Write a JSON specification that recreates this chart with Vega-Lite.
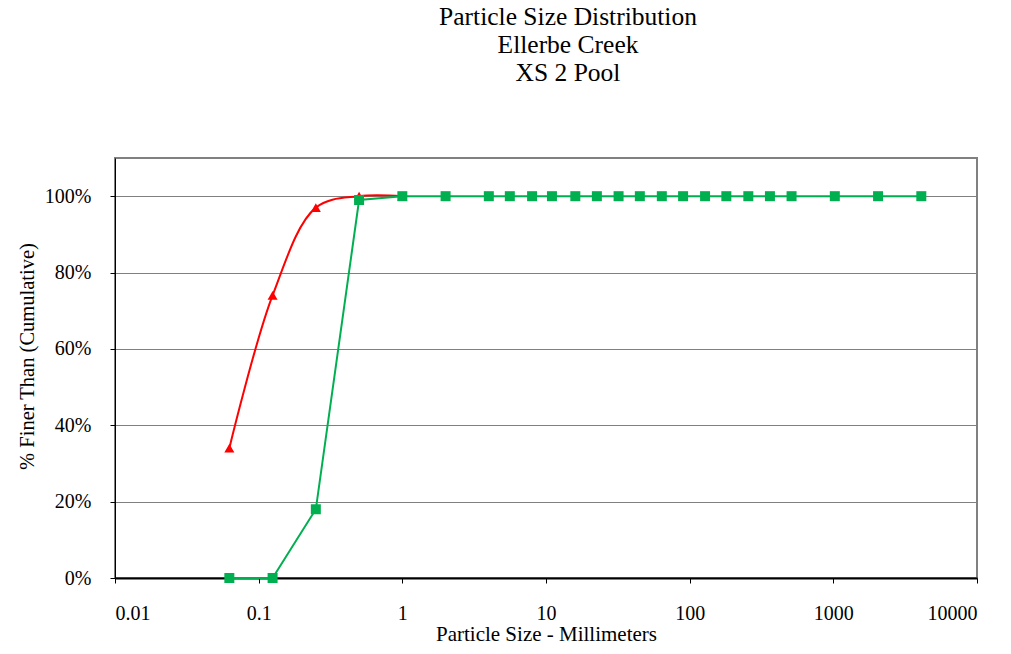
{
  "$schema": "https://vega.github.io/schema/vega-lite/v6.json",
  "width": 862,
  "height": 420,
  "autosize": "none",
  "padding": {"left": 115, "top": 158, "right": 34, "bottom": 76},
  "background": "white",
  "config": {
    "font": "Liberation Serif",
    "view": {"stroke": "#808080", "strokeWidth": 2},
    "axis": {"labelFont": "Liberation Serif", "titleFont": "Liberation Serif"}
  },
  "title": {
    "text": ["Particle Size Distribution", "Ellerbe Creek", "XS 2 Pool"],
    "font": "Liberation Serif",
    "fontSize": 25.5,
    "fontWeight": "normal",
    "color": "black",
    "lineHeight": 28,
    "anchor": "middle",
    "dx": 22,
    "offset": 72
  },
  "data": {
    "values": [
      {"size": 0.0625, "pct": 0.34, "series": "A"},
      {"size": 0.125, "pct": 0.74, "series": "A"},
      {"size": 0.25, "pct": 0.97, "series": "A"},
      {"size": 0.5, "pct": 1.0, "series": "A"},
      {"size": 1, "pct": 1.0, "series": "A"},
      {"size": 0.0625, "pct": 0.0, "series": "B"},
      {"size": 0.125, "pct": 0.0, "series": "B"},
      {"size": 0.25, "pct": 0.18, "series": "B"},
      {"size": 0.5, "pct": 0.99, "series": "B"},
      {"size": 1, "pct": 1.0, "series": "B"},
      {"size": 2, "pct": 1.0, "series": "B"},
      {"size": 4, "pct": 1.0, "series": "B"},
      {"size": 5.6, "pct": 1.0, "series": "B"},
      {"size": 8, "pct": 1.0, "series": "B"},
      {"size": 11, "pct": 1.0, "series": "B"},
      {"size": 16, "pct": 1.0, "series": "B"},
      {"size": 22.6, "pct": 1.0, "series": "B"},
      {"size": 32, "pct": 1.0, "series": "B"},
      {"size": 45, "pct": 1.0, "series": "B"},
      {"size": 64, "pct": 1.0, "series": "B"},
      {"size": 90, "pct": 1.0, "series": "B"},
      {"size": 128, "pct": 1.0, "series": "B"},
      {"size": 180, "pct": 1.0, "series": "B"},
      {"size": 256, "pct": 1.0, "series": "B"},
      {"size": 362, "pct": 1.0, "series": "B"},
      {"size": 512, "pct": 1.0, "series": "B"},
      {"size": 1024, "pct": 1.0, "series": "B"},
      {"size": 2048, "pct": 1.0, "series": "B"},
      {"size": 4096, "pct": 1.0, "series": "B"}
    ]
  },
  "encoding": {
    "x": {
      "field": "size",
      "type": "quantitative",
      "scale": {"type": "log", "domain": [0.01, 10000], "nice": false},
      "axis": {
        "values": [0.01, 0.1, 1, 10, 100, 1000, 10000],
        "format": "~r",
        "title": "Particle Size - Millimeters",
        "titleFont": "Liberation Serif",
        "titleFontSize": 21,
        "titleFontWeight": "normal",
        "titleColor": "black",
        "titlePadding": 0,
        "labelFont": "Liberation Serif",
        "labelFontSize": 20,
        "labelColor": "black",
        "labelPadding": 20,
        "grid": false,
        "domainColor": "black",
        "domainWidth": 2,
        "tickColor": "black",
        "tickSize": 5
      }
    },
    "y": {
      "field": "pct",
      "type": "quantitative",
      "scale": {"domain": [0, 1.1], "nice": false},
      "axis": {
        "values": [0, 0.2, 0.4, 0.6, 0.8, 1.0],
        "format": ".0%",
        "title": "% Finer Than (Cumulative)",
        "titleFont": "Liberation Serif",
        "titleFontSize": 20.5,
        "titleFontWeight": "normal",
        "titleColor": "black",
        "titlePadding": 7,
        "titleY": 198,
        "labelFont": "Liberation Serif",
        "labelFontSize": 20,
        "labelColor": "black",
        "labelPadding": 19,
        "grid": true,
        "gridColor": "#808080",
        "gridWidth": 1,
        "domainColor": "black",
        "domainWidth": 1,
        "tickColor": "black",
        "tickSize": 5
      }
    }
  },
  "layer": [
    {
      "transform": [{"filter": "datum.series === 'A'"}],
      "mark": {"type": "line", "color": "#FF0000", "strokeWidth": 2, "interpolate": "catmull-rom"}
    },
    {
      "transform": [{"filter": "datum.series === 'A'"}],
      "mark": {"type": "point", "shape": "triangle-up", "filled": true, "color": "#FF0000", "size": 100, "opacity": 1}
    },
    {
      "transform": [{"filter": "datum.series === 'B'"}],
      "mark": {"type": "line", "color": "#00B050", "strokeWidth": 2}
    },
    {
      "transform": [{"filter": "datum.series === 'B'"}],
      "mark": {"type": "point", "shape": "square", "filled": true, "color": "#00B050", "size": 100, "opacity": 1}
    }
  ]
}
